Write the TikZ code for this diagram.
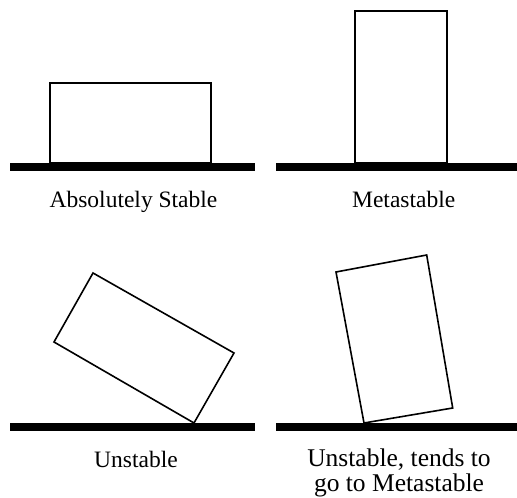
\documentclass[tikz,border=0pt]{standalone}
\usepackage{fontspec}
\setmainfont{Liberation Serif}
\begin{document}
\begin{tikzpicture}[x=1pt,y=1pt,
  ground/.style={fill=black,draw=none},
  block/.style={draw=black,line width=1.6pt,line join=miter,fill=white},
  lbl/.style={font=\fontsize{23.5}{25}\selectfont,inner sep=0pt,anchor=base},
  lblb/.style={font=\fontsize{25.5}{27}\selectfont,inner sep=0pt,anchor=base}]
\useasboundingbox (0,0) rectangle (517,498);
% ground bars
\fill[ground] (10,327) rectangle (255,335);
\fill[ground] (276,327) rectangle (517,335);
\fill[ground] (10,66.5) rectangle (255,74.5);
\fill[ground] (276,66.5) rectangle (517,74.5);
% blocks
\draw[block] (50,335) rectangle (211,415);
\draw[block] (354.7,335) rectangle (447,487);
\draw[block] (194,75) -- (234,145) -- (93,225) -- (54,156) -- cycle;
\draw[block] (364,75) -- (452.7,90) -- (426.7,243) -- (336,226) -- cycle;
% labels
\node[lbl] (l1) at (133.5,290) {Absolutely Stable};
\node[lbl] (l2) at (403.7,290) {Metastable};
\node[lbl] (l3) at (136,30) {Unstable};
\node[lblb] (l4) at (399,31) {Unstable, tends to};
\node[lblb] (l5) at (399,6) {go to Metastable};
\end{tikzpicture}
\end{document}
